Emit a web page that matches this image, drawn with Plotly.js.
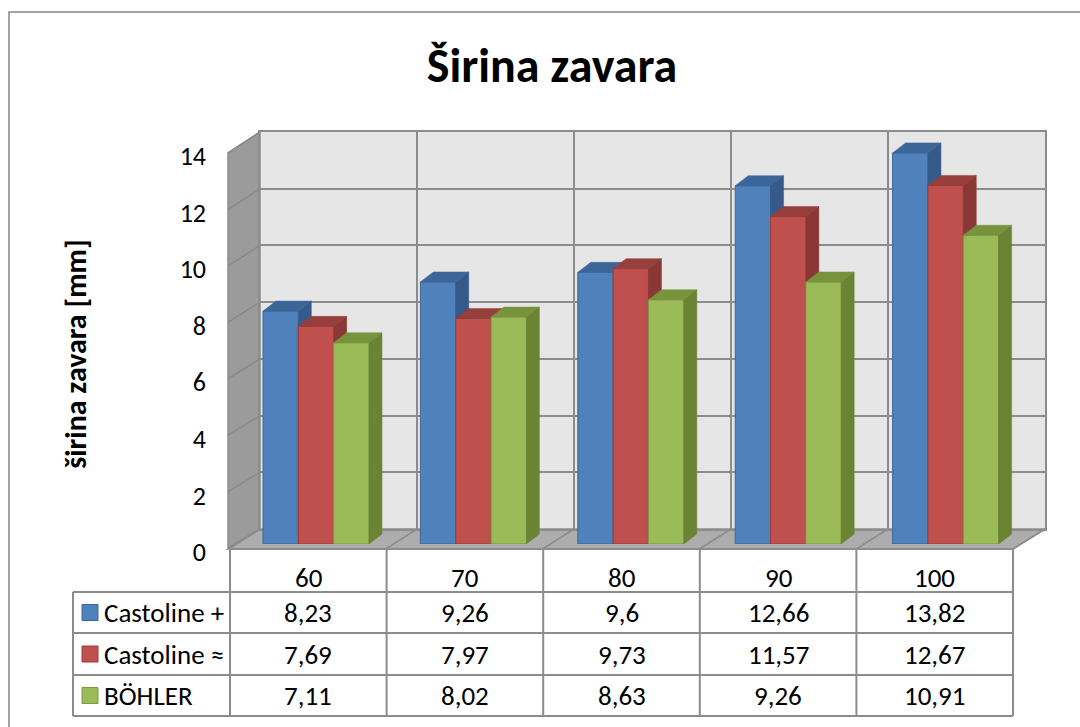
<!DOCTYPE html>
<html><head><meta charset="utf-8">
<script src="https://cdn.plot.ly/plotly-3.0.1.min.js"></script>
<style>html,body{margin:0;padding:0;background:#fff}#chart{width:1080px;height:727px}</style>
</head><body><div id="chart"></div>
<script>
// ---- data ----
const categories = ['60', '70', '80', '90', '100'];
const seriesNames = ['Castoline +', 'Castoline ≈', 'BÖHLER'];
const castolinePlus = [8.23, 9.26, 9.6, 12.66, 13.82];
const castolineApprox = [7.69, 7.97, 9.73, 11.57, 12.67];
const bohler = [7.11, 8.02, 8.63, 9.26, 10.91];
const yTicks = [0, 2, 4, 6, 8, 10, 12, 14];
const chartTitle = 'Širina zavara';
const yTitle = 'širina zavara [mm]';

// ---- styling ----
const FONT = "Carlito, Calibri, Lato, 'Open Sans', sans-serif";
const series = [castolinePlus, castolineApprox, bohler];
const frontCol = ['#4f81bd', '#c0504d', '#9bbb59'];
const edgeCol = ['#3c6797', '#9c3d3a', '#7d9a42'];
const topCol = ['#3d6698', '#963f3c', '#77933c'];
const sideCol = ['#365a8a', '#8a3835', '#6a8434'];
const GRID = '#8c8c8c';

const W = 1080, H = 727;
const fx = px => px / W, fy = py => 1 - py / H;
const P = (x, y) => fx(x) + ',' + fy(y);

// bar geometry
const BW = 0.2245;
const OFF0 = -0.3367;
const CAT_PX = 157.4, UNIT_PX = 28.3;
const DX = 13 / CAT_PX, DY = 10 / UNIT_PX;
const Y3MAX = 15;

const traces = [];
// invisible anchor traces so the axis-only subplots get drawn
traces.push({type: 'scatter', mode: 'markers', x: [0], y: [0], marker: {opacity: 0},
  xaxis: 'x', yaxis: 'y', hoverinfo: 'skip', showlegend: false});
traces.push({type: 'scatter', mode: 'markers', x: [0], y: [0], marker: {opacity: 0},
  xaxis: 'x2', yaxis: 'y2', hoverinfo: 'skip', showlegend: false});

const axIds = [['x3', 'y3'], ['x4', 'y4'], ['x5', 'y5']];
series.forEach((vals, s) => {
  const off = OFF0 + s * BW;
  traces.push({
    type: 'bar', name: seriesNames[s], x: categories.map((c, i) => i), y: vals,
    width: BW, offset: off,
    marker: {color: frontCol[s], line: {color: edgeCol[s], width: 1}},
    xaxis: axIds[s][0], yaxis: axIds[s][1], hoverinfo: 'y+name', showlegend: false
  });
  vals.forEach((v, i) => {
    const xl = i + off, xr = xl + BW;
    traces.push({
      type: 'scatter', mode: 'lines', fill: 'toself', fillcolor: topCol[s],
      line: {color: topCol[s], width: 0.5},
      x: [xl, xl + DX, xr + DX, xr, xl], y: [v, v + DY, v + DY, v, v],
      xaxis: axIds[s][0], yaxis: axIds[s][1], hoverinfo: 'skip', showlegend: false
    });
    traces.push({
      type: 'scatter', mode: 'lines', fill: 'toself', fillcolor: sideCol[s],
      line: {color: sideCol[s], width: 0.5},
      x: [xr, xr, xr + DX, xr + DX, xr], y: [0, v, v + DY, DY, 0],
      xaxis: axIds[s][0], yaxis: axIds[s][1], hoverinfo: 'skip', showlegend: false
    });
  });
});

// ---- walls / floor decorations ----
const shapes = [];
shapes.push({type: 'rect', xref: 'paper', yref: 'paper', x0: fx(9), x1: fx(1095), y0: fy(745), y1: fy(12),
  line: {color: '#868686', width: 1.5}, fillcolor: 'rgba(0,0,0,0)', layer: 'below'});
shapes.push({type: 'rect', xref: 'paper', yref: 'paper', x0: fx(260), x1: fx(1045), y0: fy(529), y1: fy(132),
  fillcolor: '#e6e6e6', line: {width: 0}, layer: 'below'});
shapes.push({type: 'path', xref: 'paper', yref: 'paper',
  path: 'M' + P(228, 153) + 'L' + P(260, 132) + 'L' + P(260, 529) + 'L' + P(228, 548) + 'Z',
  fillcolor: '#9b9b9b', line: {color: GRID, width: 1.5}, layer: 'below'});
yTicks.forEach(v => {
  shapes.push({type: 'line', xref: 'paper', yref: 'paper',
    x0: fx(228), y0: fy(548 - v * 28.21), x1: fx(260), y1: fy(529 - v * 28.36),
    line: {color: '#8a8a8a', width: 1.5}, layer: 'below'});
});
shapes.push({type: 'path', xref: 'paper', yref: 'paper',
  path: 'M' + P(228, 549) + 'L' + P(260, 529) + 'L' + P(1045, 529) + 'L' + P(1013, 549) + 'Z',
  fillcolor: '#adadad', line: {color: GRID, width: 1.5}, layer: 'below'});
for (let k = 0; k <= categories.length; k++) {
  shapes.push({type: 'line', xref: 'paper', yref: 'paper',
    x0: fx(229 + 156.8 * k), y0: fy(549), x1: fx(260 + 157 * k), y1: fy(529),
    line: {color: GRID, width: 1.5}, layer: 'below'});
}

// ---- data table ----
const colX = [73, 230];
for (let k = 1; k <= categories.length; k++) colX.push(230 + 156.6 * k);
const rowY = [549, 592, 633, 675, 716];
const TL = {color: GRID, width: 2};
shapes.push({type: 'line', xref: 'paper', yref: 'paper', x0: fx(230), x1: fx(1013), y0: fy(549), y1: fy(549), line: TL});
for (let r = 1; r < rowY.length; r++) {
  shapes.push({type: 'line', xref: 'paper', yref: 'paper', x0: fx(73), x1: fx(1013), y0: fy(rowY[r]), y1: fy(rowY[r]), line: TL});
}
shapes.push({type: 'line', xref: 'paper', yref: 'paper', x0: fx(73), x1: fx(73), y0: fy(592), y1: fy(716), line: TL});
for (let k = 1; k < colX.length; k++) {
  shapes.push({type: 'line', xref: 'paper', yref: 'paper', x0: fx(colX[k]), x1: fx(colX[k]), y0: fy(549), y1: fy(716), line: TL});
}

const annotations = [];
const TF = {family: FONT, size: 27, color: '#000'};
categories.forEach((c, i) => {
  const cx = (colX[i + 1] + colX[i + 2]) / 2;
  annotations.push({xref: 'paper', yref: 'paper', x: fx(cx), y: fy(577), text: c,
    showarrow: false, xanchor: 'center', yanchor: 'middle', font: TF});
  series.forEach((vals, s) => {
    const cy = (rowY[s + 1] + rowY[s + 2]) / 2;
    annotations.push({xref: 'paper', yref: 'paper', x: fx(cx), y: fy(cy),
      text: String(vals[i]).replace('.', ','), showarrow: false, xanchor: 'center', yanchor: 'middle', font: TF});
  });
});
seriesNames.forEach((n, s) => {
  const cy = (rowY[s + 1] + rowY[s + 2]) / 2;
  shapes.push({type: 'rect', xref: 'paper', yref: 'paper', x0: fx(82), x1: fx(98), y0: fy(cy + 8), y1: fy(cy - 8),
    fillcolor: frontCol[s], line: {color: edgeCol[s], width: 1}});
  annotations.push({xref: 'paper', yref: 'paper', x: fx(102), y: fy(cy), text: n,
    showarrow: false, xanchor: 'left', yanchor: 'middle', font: TF});
});

const hidden = {visible: false, showgrid: false, zeroline: false};
const layout = {
  width: W, height: H, margin: {l: 0, r: 0, t: 0, b: 0},
  paper_bgcolor: '#ffffff', plot_bgcolor: 'rgba(0,0,0,0)', showlegend: false,
  font: {family: FONT, color: '#000'},
  title: {text: chartTitle, font: {family: FONT, size: 48, weight: 700, color: '#000'},
    x: fx(552), xanchor: 'center', xref: 'paper', y: fy(65), yanchor: 'middle', yref: 'paper'},
  xaxis: {domain: [fx(228), fx(1013)], range: [-0.5, 4.5], anchor: 'y',
    showticklabels: false, ticks: '', showgrid: false, zeroline: false, showline: false},
  yaxis: {domain: [fy(552), fy(156)], range: [0, 14], tickvals: yTicks, anchor: 'x',
    showgrid: false, zeroline: false, showline: false, ticks: '', ticklabelstandoff: 21,
    tickfont: {family: FONT, size: 26, color: '#000'},
    title: {text: yTitle, font: {family: FONT, size: 30, weight: 700, color: '#000'}, standoff: 84}},
  xaxis2: {domain: [fx(260), fx(1045)], range: [-0.5, 4.5], tickvals: [0.5, 1.5, 2.5, 3.5], anchor: 'y2',
    showticklabels: false, ticks: '', showgrid: true, gridcolor: GRID, gridwidth: 2, zeroline: false,
    showline: true, mirror: true, linecolor: GRID, linewidth: 2},
  yaxis2: {domain: [fy(529), fy(132)], range: [0, 14], tickvals: yTicks, anchor: 'x2',
    showticklabels: false, ticks: '', showgrid: true, gridcolor: GRID, gridwidth: 2, zeroline: false,
    showline: true, mirror: true, linecolor: GRID, linewidth: 2},
  xaxis3: Object.assign({domain: [fx(316 - CAT_PX / 2), fx(316 + 4.5 * CAT_PX)], range: [-0.5, 4.5], anchor: 'y3'}, hidden),
  yaxis3: Object.assign({domain: [fy(544), fy(544 - Y3MAX * UNIT_PX)], range: [0, Y3MAX], anchor: 'x3'}, hidden),
  xaxis4: Object.assign({overlaying: 'x3', range: [-0.5, 4.5], anchor: 'y4'}, hidden),
  yaxis4: Object.assign({overlaying: 'y3', range: [0, Y3MAX], anchor: 'x4'}, hidden),
  xaxis5: Object.assign({overlaying: 'x3', range: [-0.5, 4.5], anchor: 'y5'}, hidden),
  yaxis5: Object.assign({overlaying: 'y3', range: [0, Y3MAX], anchor: 'x5'}, hidden),
  shapes: shapes, annotations: annotations
};
Plotly.newPlot('chart', traces, layout, {displayModeBar: false, staticPlot: true});
</script>
</body></html>
